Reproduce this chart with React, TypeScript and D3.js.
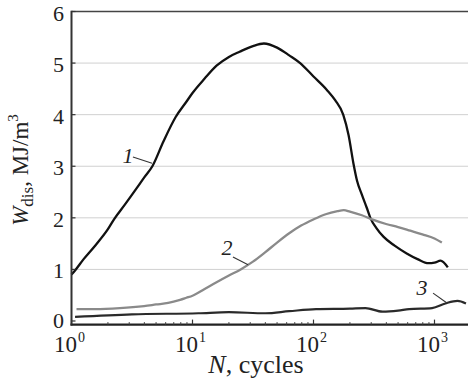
import * as d3 from "d3";

// curve 1
const n1 = [1, 1.07, 1.26, 1.58, 2.0, 2.26, 2.75, 3.47, 3.98, 4.66, 5.75, 7.24, 8.9, 10, 12.6, 15.8, 20, 24.5, 31.6, 38.9, 50, 63, 77.6, 100, 129, 151, 176, 195, 214, 229, 251, 275, 295, 331, 380, 468, 589, 724, 891, 1000, 1122, 1288];
const w1 = [0.9, 0.98, 1.2, 1.47, 1.78, 1.98, 2.25, 2.58, 2.78, 3.0, 3.48, 3.95, 4.25, 4.42, 4.7, 4.95, 5.12, 5.22, 5.33, 5.38, 5.3, 5.15, 5.0, 4.74, 4.48, 4.28, 4.0, 3.6, 3.05, 2.72, 2.45, 2.2, 2.0, 1.8, 1.63, 1.46, 1.31, 1.2, 1.12, 1.13, 1.17, 1.04];

// curve 2
const n2 = [1.1, 1.58, 2.51, 3.98, 5.0, 6.3, 7.9, 8.9, 10, 12.6, 15.8, 20, 25, 31.6, 39.8, 50, 63, 79, 100, 126, 158, 178, 200, 251, 305, 398, 500, 631, 794, 1000, 1150];
const w2 = [0.23, 0.23, 0.25, 0.29, 0.32, 0.35, 0.41, 0.45, 0.49, 0.62, 0.75, 0.88, 1.0, 1.15, 1.33, 1.52, 1.7, 1.85, 1.97, 2.07, 2.13, 2.15, 2.12, 2.05, 1.97, 1.88, 1.82, 1.75, 1.68, 1.6, 1.52];

// curve 3
const n3 = [1.07, 3.16, 11.2, 20, 40, 63, 105, 200, 269, 372, 500, 617, 955, 1230, 1550, 1820];
const w3 = [0.08, 0.13, 0.15, 0.17, 0.15, 0.19, 0.23, 0.24, 0.25, 0.18, 0.2, 0.23, 0.25, 0.34, 0.39, 0.34];

const yTicks = [0, 1, 2, 3, 4, 5, 6];
const xDecades = [0, 1, 2, 3];

// curve number labels: text position and leader line (data coords)
const labels = [
  { text: "1", n: 2.93, w: 3.06, fromN: 3.22, fromW: 3.18, toN: 4.63, toW: 3.06 },
  { text: "2", n: 19.3, w: 1.28, fromN: 21.6, fromW: 1.24, toN: 28.8, toW: 1.09 },
  { text: "3", n: 788, w: 0.5, fromN: 973, fromW: 0.54, toN: 1259, toW: 0.355 },
];

const W = 468;
const H = 378;
const left = 71.5;
const top = 11.5;
const bottom = 324.6;
const decade = 121;
const font = "'Liberation Serif', 'Times New Roman', serif";

export default function App() {
  const x = d3.scaleLog().domain([1, Math.pow(10, 3.3)]).range([left, left + 3.3 * decade]);
  const y = d3.scaleLinear().domain([-0.07, 6]).range([bottom, top]);

  const line = d3
    .line<[number, number]>()
    .x((d) => x(d[0]))
    .y((d) => y(d[1]))
    .curve(d3.curveMonotoneX);

  const series = [
    { n: n1, w: w1, color: "#111", width: 2.3 },
    { n: n2, w: w2, color: "#8a8a8a", width: 2.3 },
    { n: n3, w: w3, color: "#2a2a2a", width: 2.2 },
  ];

  const minor: number[] = [];
  xDecades.forEach((p) => {
    for (let k = 2; k <= 9; k++) {
      const v = k * Math.pow(10, p);
      if (v < Math.pow(10, 3.3)) minor.push(v);
    }
  });

  const right = W;

  return (
    <svg width={W} height={H} style={{ position: "absolute", left: 0, top: 0, background: "#fff" }} fontFamily={font}>
      {/* grid */}
      {yTicks.slice(1, 6).map((t) => (
        <line key={t} x1={left} x2={right} y1={y(t)} y2={y(t)} stroke="#d0d0d0" strokeWidth={1} />
      ))}

      {/* curves */}
      {series.map((s, i) => (
        <path
          key={i}
          d={line(s.n.map((v, j) => [v, s.w[j]] as [number, number])) ?? ""}
          fill="none"
          stroke={s.color}
          strokeWidth={s.width}
          strokeLinejoin="round"
        />
      ))}

      {/* frame */}
      <line x1={left} x2={right} y1={top} y2={top} stroke="#444" strokeWidth={1.6} />
      <line x1={left} x2={left} y1={top - 0.8} y2={bottom + 1} stroke="#333" strokeWidth={2} />
      <line x1={left - 1} x2={right} y1={bottom} y2={bottom} stroke="#222" strokeWidth={2.2} />

      {/* y ticks */}
      {yTicks.map((t) => (
        <g key={t}>
          <line x1={left} x2={left + 4} y1={y(t)} y2={y(t)} stroke="#333" strokeWidth={1.2} />
          <text x={64} y={y(t) + (t === 0 ? 7.5 : 9)} textAnchor="end" fontSize={22} fill="#222">
            {t}
          </text>
        </g>
      ))}

      {/* x ticks */}
      {minor.map((v) => (
        <line key={v} x1={x(v)} x2={x(v)} y1={bottom} y2={bottom - 2.5} stroke="#444" strokeWidth={1} />
      ))}
      {xDecades.map((p) => (
        <g key={p}>
          <line x1={x(Math.pow(10, p))} x2={x(Math.pow(10, p))} y1={bottom} y2={bottom - 5} stroke="#333" strokeWidth={1.2} />
          <text x={x(Math.pow(10, p)) - 2} y={352} textAnchor="middle" fontSize={23} fill="#222">
            10
            <tspan fontSize={14} dx={1} dy={-10}>
              {p}
            </tspan>
          </text>
        </g>
      ))}

      {/* curve labels */}
      {labels.map((l) => (
        <g key={l.text}>
          <text x={x(l.n)} y={y(l.w)} textAnchor="middle" fontSize={22} fontStyle="italic" fill="#222">
            {l.text}
          </text>
          <line x1={x(l.fromN)} y1={y(l.fromW)} x2={x(l.toN)} y2={y(l.toW)} stroke="#333" strokeWidth={1.1} />
        </g>
      ))}

      {/* axis titles */}
      <text x={256} y={373} textAnchor="middle" fontSize={26} fill="#222">
        <tspan fontStyle="italic">N</tspan>, cycles
      </text>
      <text transform="translate(28,170) rotate(-90)" textAnchor="middle" fontSize={23} fill="#222">
        <tspan fontStyle="italic">W</tspan>
        <tspan fontSize={17} dy={5}>dis</tspan>
        <tspan dy={-5}>, MJ/m</tspan>
        <tspan fontSize={15} dy={-10}>3</tspan>
      </text>
    </svg>
  );
}
